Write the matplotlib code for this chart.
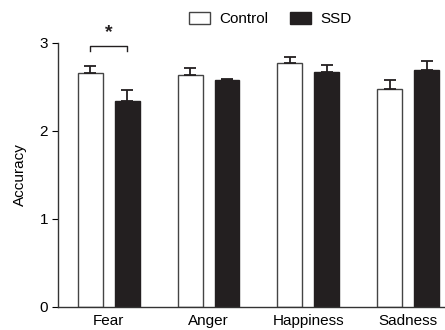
import numpy as np
import matplotlib.pyplot as plt

plt.rcParams['font.family'] = ['Liberation Sans', 'DejaVu Sans']

emotions = ['Fear', 'Anger', 'Happiness', 'Sadness']
control = [2.66, 2.63, 2.77, 2.48]
control_err = [0.08, 0.09, 0.07, 0.10]
ssd = [2.34, 2.58, 2.67, 2.69]
ssd_err = [0.13, 0.01, 0.08, 0.11]

x = np.arange(len(emotions))
w = 0.25
off = 0.185
dark = '#231f20'

fig = plt.figure(figsize=(4.45, 3.3), dpi=100)
ax = fig.add_axes([0.130, 0.0697, 0.87, 0.8003])

ax.bar(x - off, control, w, color='white', edgecolor='#444444', linewidth=1.0,
       yerr=[np.zeros(4), control_err], capsize=4.5,
       error_kw=dict(elinewidth=1.3, capthick=1.3, ecolor=dark), label='Control')
ax.bar(x + off, ssd, w, color=dark, edgecolor=dark, linewidth=1.0,
       yerr=[np.zeros(4), ssd_err], capsize=4.5,
       error_kw=dict(elinewidth=1.3, capthick=1.3, ecolor=dark), label='SSD')

# significance bracket for Fear
ax.plot([x[0] - off, x[0] - off, x[0] + off, x[0] + off], [2.91, 2.96, 2.96, 2.91],
        color=dark, lw=1.0, clip_on=False)
ax.text(x[0], 3.02, '*', ha='center', va='bottom', fontsize=14, fontweight='bold',
        color=dark, clip_on=False)

ax.set_xlim(-0.51, 3.37)
ax.set_ylim(0, 3)
ax.set_yticks([0, 1, 2, 3])
ax.set_xticks(x)
ax.set_xticklabels(emotions, fontsize=11)
ax.tick_params(axis='x', length=0, pad=5)
ax.tick_params(axis='y', labelsize=11, length=4, direction='out', pad=3)
ax.set_ylabel('Accuracy', fontsize=11, labelpad=9)
ax.spines['top'].set_visible(False)
ax.spines['right'].set_visible(False)
for s in ['left', 'bottom']:
    ax.spines[s].set_linewidth(1.0)
    ax.spines[s].set_color('#333333')

fig.legend(loc='center', bbox_to_anchor=(0.607, 0.942), ncol=2, frameon=False,
           fontsize=11, handlelength=1.4, handleheight=0.8, columnspacing=1.4,
           handletextpad=0.6)

fig.savefig('out.png', dpi=100)
